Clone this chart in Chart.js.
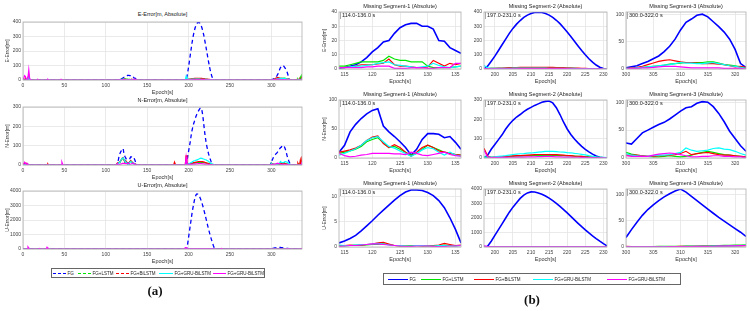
<!DOCTYPE html>
<html>
<head>
<meta charset="utf-8">
<script src="https://cdn.jsdelivr.net/npm/chart.js@4.4.1/dist/chart.umd.min.js"></script>
<style>
body{margin:0;background:#fff;width:750px;height:311px;position:relative;overflow:hidden;font-family:"Liberation Sans",Arial,sans-serif}
canvas{position:absolute}
.ttl{position:absolute;font-size:5.5px;color:#222;transform:translate(-50%,-50%);white-space:nowrap}
.note{position:absolute;font-size:5.5px;color:#222;white-space:nowrap;border-left:1.5px solid #aaa;padding-left:1px;line-height:7px}
.leg{position:absolute;border:1px solid #666;background:#fff}
.leg .ln{position:absolute;top:50%;height:0}
.leg .tx{position:absolute;top:50%;transform:translateY(-50%);font-size:4.5px;color:#222;white-space:nowrap}
.pl{position:absolute;font-family:"Liberation Serif",serif;font-weight:bold;font-size:13px;color:#111;transform:translate(-50%,-50%)}
</style>
</head>
<body>
<script>
const names = ['FG', 'FG+LSTM', 'FG+BiLSTM', 'FG+GRU-BiLSTM', 'FG+GRU-BiLSTM'];
const colors = ['#0000ff', '#00e600', '#ff0000', '#00ffff', '#ff00ff'];

// epochs of the three missing segments
const seg1X = [114,115,116,117,118,119,120,121,122,123,124,125,126,127,128,129,130,131,132,133,134,135,136];
const seg2X = [197,198,199,200,201,202,203,204,205,206,207,208,209,210,211,212,213,214,215,216,217,218,219,220,221,222,223,224,225,226,227,228,229,230,231];
const seg3X = [300,301,302,303,304,305,306,307,308,309,310,311,312,313,314,315,316,317,318,319,320,321,322];

// order in each: FG, FG+LSTM, FG+BiLSTM, FG+GRU-BiLSTM, FG+GRU-BiLSTM (magenta)
const e1 = [
  [0.5,1,2,3,5,8,12,15,19,20,25,29,31,32,32,30,30,28,20,19.5,15,13,11],
  [2,2,3,4,5,5,5,5,6,9,7,6,6,5,5,5,2,1,1,1,1,1.5,2],
  [1,1,1.5,2,3,3,3,3.5,4,7,3,2,2,1.5,1,1,1.5,6,4,2,4,3,4],
  [1,1,1.5,2,2,2.5,3,4,4.5,5,3,2.5,2,1.5,1,1.5,2,4,2.5,1.5,1,1.5,2],
  [1,1,1,1,1,1.5,1.5,2,2,2,0.5,0.5,0.5,0.8,1,0.8,0.5,0.5,1,1,1,4,4]
];
const n1 = [
  [10,22,45,58,68,76,82,85,55,45,37,28,18,5,15,32,42,42,41,35,37,27,15],
  [8,10,12,15,20,28,32,35,26,18,20,15,10,5,8,15,22,18,14,10,8,6,5],
  [10,12,14,17,22,30,36,38,25,18,23,18,10,3,10,18,22,18,12,10,8,6,5],
  [5,8,12,16,22,30,35,37,28,20,17,12,8,3,8,14,18,16,10,5,10,5,3],
  [8,4,2,3,5,6,8,8,8,8,7,7,6,10,8,5,4,6,8,10,6,4,3]
];
const u1 = [
  [0.8,1.2,1.7,2.3,3.2,4.2,5.2,6.3,7.3,8.3,9.3,10.2,10.9,11.3,11.3,11.2,10.8,10.2,9.2,7.8,5.8,3.5,0.8],
  [0.3,0.2,0.3,0.4,0.3,0.4,0.5,0.5,0.6,0.5,0.3,0.2,0.2,0.3,0.3,0.2,0.2,0.3,0.3,0.4,0.3,0.2,0.3],
  [0.2,0.3,0.4,0.3,0.4,0.5,0.6,0.8,0.9,0.6,0.3,0.2,0.2,0.2,0.3,0.2,0.2,0.3,0.4,0.7,0.5,0.3,0.4],
  [0.4,0.3,0.3,0.4,0.5,0.5,0.6,0.7,0.6,0.4,0.3,0.3,0.2,0.2,0.3,0.3,0.2,0.2,0.3,0.3,0.2,0.2,0.3],
  [0.1,0.2,0.3,0.3,0.4,0.5,0.6,0.6,0.5,0.4,0.3,0.2,0.1,0.1,0.2,0.2,0.2,0.1,0.1,0.1,0.2,0.2,0.3]
];
const e2 = [
  [0,20,55,90,130,170,210,250,285,315,340,362,378,390,396,398,396,390,378,362,342,318,290,260,228,195,162,130,100,72,48,28,12,3,0],
  [3,3,4,4,5,5,5,6,6,6,7,7,7,7,7,7,7,6,6,6,6,5,5,5,4,4,3,3,3,2,2,2,1,1,1],
  [2,3,4,5,6,7,8,9,10,10,11,11,12,12,12,12,12,11,11,11,10,10,9,8,8,7,6,5,4,3,3,2,2,1,1],
  [25,8,4,4,4,5,5,5,6,6,6,6,6,6,6,6,6,6,5,5,5,5,5,4,4,4,3,3,3,2,2,2,1,1,1],
  [2,1,1,1,1,1,1,1,1,1,2,2,2,2,2,2,2,2,2,2,2,2,2,2,1,1,1,1,1,1,1,1,1,0,0]
];
const n2 = [
  [0,15,45,70,95,120,150,175,195,212,225,240,252,262,272,280,288,293,295,285,260,225,185,150,122,98,78,60,45,32,20,10,4,1,0],
  [3,3,3,5,6,6,7,7,8,9,10,11,12,12,13,13,14,14,14,13,13,12,12,11,11,10,9,8,7,6,5,4,3,2,1],
  [50,10,3,4,5,7,8,10,11,12,13,14,15,16,17,18,18,18,18,17,17,16,15,13,12,10,9,8,6,5,4,3,2,2,1],
  [5,5,5,6,8,10,12,15,18,20,22,23,25,26,28,30,32,34,35,34,33,31,30,28,27,24,22,19,16,12,9,6,4,3,2],
  [40,5,2,3,3,3,3,4,4,5,5,5,6,6,6,7,7,8,8,7,6,6,5,5,5,4,4,3,3,2,2,1,1,1,0]
];
const u2 = [
  [0,50,400,800,1200,1600,2000,2400,2750,3050,3350,3580,3730,3800,3790,3730,3640,3520,3370,3200,3010,2800,2580,2350,2110,1870,1630,1400,1180,970,770,580,400,230,80],
  [5,5,6,6,7,7,8,8,8,9,9,9,10,10,10,10,10,10,9,9,9,8,8,8,7,7,6,6,5,5,4,4,3,3,3],
  [20,8,6,6,7,8,8,9,10,10,11,11,12,12,12,12,12,11,11,11,10,10,9,9,8,8,7,6,6,5,5,4,4,3,3],
  [10,6,5,5,6,6,7,7,8,8,8,9,9,9,9,9,9,9,8,8,8,8,7,7,7,6,6,5,5,4,4,4,3,3,3],
  [100,20,8,6,6,6,6,7,7,7,7,8,8,8,8,8,8,8,8,7,7,7,7,6,6,6,5,5,5,4,4,4,3,3,3]
];
const e3 = [
  [2,4,6,10,14,19,24,32,42,55,72,86,92,99,101,96,87,78,68,55,36,10,3],
  [0,1,2,3,4,5,6,7,9,10,11,12,12,12,12,13,13,11,8,7,6,4,2],
  [1,2,3,5,8,11,14,16,17,15,13,12,12,11,10,10,10,9,8,6,4,5,3],
  [1,1,2,3,4,5,6,7,8,10,12,11,11,10,10,11,12,10,8,6,5,3,1],
  [0,1,1,2,2,3,4,5,5,5,4,3,2,2,2,2,2,2,1,1,1,1,0]
];
const n3 = [
  [27,25,35,45,50,55,60,64,70,77,84,90,92,98,101,100,92,80,65,48,35,22,12],
  [10,7,5,4,3,2,2,3,4,3,2,3,5,8,10,12,10,8,6,5,4,3,2],
  [5,5,5,4,3,3,4,4,5,6,8,12,6,8,9,10,8,6,5,5,4,3,2],
  [8,5,4,3,3,4,5,5,6,8,10,18,14,12,13,14,17,18,16,15,12,8,5],
  [4,3,3,3,3,5,7,8,9,8,6,4,2,2,3,3,4,4,3,3,2,2,1]
];
const u3 = [
  [18,33,47,60,71,80,88,95,101,106,110,104,96,88,80,72,64,56,49,42,35,28,20],
  [0.5,0.5,0.5,0.5,0.8,0.8,1,1,1,1.2,1.2,1.5,1.5,1.8,2,2.2,2.5,2.8,3,3.2,3.5,3.8,4],
  [1,0.8,0.6,0.5,0.5,0.5,0.6,0.6,0.7,0.8,1,1,1,1.2,1.2,1.3,1.4,1.5,1.6,1.8,2,2.2,2.5],
  [0.5,0.5,0.4,0.4,0.5,0.5,0.5,0.6,0.6,0.8,0.8,1,1,1,1.2,1.3,1.5,1.6,1.8,2,2.2,2.5,3],
  [0.3,0.3,0.3,0.4,0.4,0.5,0.5,0.5,0.6,0.6,0.7,0.8,0.9,1,1.1,1.2,1.4,1.6,1.8,2,2.2,2.5,2.8]
];

// spikes outside the outages in the full-run plots, [epoch, value]
const extraE = [
  [],
  [[323,2],[328,3],[332,8],[335,20],[337,40]],
  [[3,15],[7,35],[323,3],[330,4],[334,10],[337,22]],
  [[5,8],[7,25],[334,5],[337,10]],
  [[2,30],[3,22],[4,6],[6,15],[7,70],[8,12],[9,3],[18,4],[30,5],[46,5],[337,6]]
];
const extraN = [
  [],
  [[5,6],[333,6],[337,15]],
  [[2,12],[4,8],[30,6],[183,15],[184,4],[332,10],[335,25],[337,45]],
  [[3,6],[337,10]],
  [[2,14],[3,10],[5,8],[47,15],[48,3],[337,16]]
];
const extraU = [
  [],
  [[337,30]],
  [[7,50],[337,40]],
  [[7,60],[337,20]],
  [[6,140],[7,60],[20,40],[29,120],[30,30],[196,100],[240,40],[337,60]]
];
const runEnd = 337;

const GRID = '#e4e4e4';
const frame = {
  id: 'frame',
  afterDraw(c) {
    const a = c.chartArea, x = c.ctx;
    x.save();
    x.strokeStyle = '#b0b0b0';
    x.lineWidth = 0.8;
    x.strokeRect(a.left, a.top, a.right - a.left, a.bottom - a.top);
    x.restore();
  }
};

function pts(xs, ys) {
  return xs.map((x, i) => ({x: x, y: ys[i]}));
}

function fullRun(k, segs, extra) {
  const ys = new Array(runEnd + 1).fill(0);
  extra[k].forEach(p => { ys[p[0]] = p[1]; });
  segs.forEach(s => s[0].forEach((t, i) => { ys[t] = s[1][k][i]; }));
  return ys.map((v, t) => ({x: t, y: v}));
}

function sets(seriesPts, dashedFG) {
  return seriesPts.map((d, k) => ({
    label: names[k],
    data: d,
    borderColor: colors[k],
    borderWidth: k === 0 ? (dashedFG ? 1.3 : 1.6) : 1.2,
    borderDash: (k === 0 && dashedFG) ? [4, 3] : [],
    order: 4 - k,
    fill: false
  }));
}

const plain = v => String(v);

function plot(p) {
  const PT = 4, PR = 5, XH = 16;
  const cv = document.createElement('canvas');
  cv.width = p.r - p.l + p.yw + PR;
  cv.height = p.b - p.t + PT + XH;
  cv.style.left = (p.l - p.yw) + 'px';
  cv.style.top = (p.t - PT) + 'px';
  document.body.appendChild(cv);
  new Chart(cv, {
    type: 'line',
    data: {datasets: p.datasets},
    options: {
      responsive: false, animation: false, devicePixelRatio: 1,
      layout: {padding: {top: PT, right: PR, left: 0, bottom: 0}},
      plugins: {legend: {display: false}, tooltip: {enabled: false}},
      elements: {point: {radius: 0}, line: {tension: 0}},
      scales: {
        x: {
          type: 'linear', min: p.xMin, max: p.xMax,
          grid: {color: GRID, drawTicks: false, lineWidth: 0.8},
          border: {display: false},
          ticks: {stepSize: p.xStep, padding: 3, includeBounds: false, maxRotation: 0, autoSkip: false,
                  font: {size: 5}, color: '#444', callback: plain},
          title: {display: true, text: 'Epoch[s]', font: {size: 5.5}, color: '#333', padding: 0},
          afterFit: s => { s.height = XH; }
        },
        y: {
          min: 0, max: p.yMax,
          grid: {color: GRID, drawTicks: false, lineWidth: 0.8},
          border: {display: false},
          ticks: {stepSize: p.yStep, padding: 2, includeBounds: false, autoSkip: false,
                  font: {size: 5}, color: '#444', callback: plain},
          title: {display: !!p.yTitle, text: p.yTitle || '', font: {size: 5}, color: '#333',
                  padding: {top: p.titlePad, bottom: 0}},
          afterFit: s => { s.width = p.yw; }
        }
      }
    },
    plugins: [frame]
  });
}

function text(cls, x, y, str) {
  const d = document.createElement('div');
  d.className = cls;
  d.style.left = x + 'px';
  d.style.top = y + 'px';
  d.textContent = str;
  document.body.appendChild(d);
  return d;
}

// ---- panel (a): whole run ----
const segsE = [[seg1X, e1], [seg2X, e2], [seg3X, e3]];
const segsN = [[seg1X, n1], [seg2X, n2], [seg3X, n3]];
const segsU = [[seg1X, u1], [seg2X, u2], [seg3X, u3]];
const aRows = [
  {t: 21, b: 80, yMax: 400, yStep: 100, yTitle: 'E-Error[m]', title: 'E-Error[m, Absolute]', ty: 14, segs: segsE, extra: extraE},
  {t: 106, b: 165, yMax: 300, yStep: 100, yTitle: 'N-Error[m]', title: 'N-Error[m, Absolute]', ty: 100, segs: segsN, extra: extraN},
  {t: 190, b: 249, yMax: 4000, yStep: 1000, yTitle: 'U-Error[m]', title: 'U-Error[m, Absolute]', ty: 185, segs: segsU, extra: extraU}
];
aRows.forEach(r => {
  const series = [0, 1, 2, 3, 4].map(k => fullRun(k, r.segs, r.extra));
  plot({l: 23, r: 302, t: r.t, b: r.b, yw: 23, titlePad: 5, xMin: 0, xMax: runEnd, xStep: 50,
        yMax: r.yMax, yStep: r.yStep, yTitle: r.yTitle, datasets: sets(series, true)});
  text('ttl', 162.5, r.ty, r.title);
});

// ---- panel (b): the three outages ----
const bCols = [
  {l: 339, r: 461, xs: seg1X, xMin: 114, xMax: 136, span: '114.0-136.0 s', title: 'Missing Segment-1 (Absolute)'},
  {l: 484, r: 607, xs: seg2X, xMin: 197, xMax: 231, span: '197.0-231.0 s', title: 'Missing Segment-2 (Absolute)'},
  {l: 626, r: 746, xs: seg3X, xMin: 300, xMax: 322, span: '300.0-322.0 s', title: 'Missing Segment-3 (Absolute)'}
];
const bRows = [
  {t: 11, b: 69, ty: 6, yTitle: 'E-Error[m]', data: [e1, e2, e3], yMax: [40, 400, 105], yStep: [10, 100, 50]},
  {t: 99, b: 158, ty: 94, yTitle: 'N-Error[m]', data: [n1, n2, n3], yMax: [100, 300, 104], yStep: [50, 100, 50]},
  {t: 188, b: 247, ty: 183, yTitle: 'U-Error[m]', data: [u1, u2, u3], yMax: [11.5, 4000, 110], yStep: [5, 1000, 50]}
];
bRows.forEach(r => {
  bCols.forEach((c, j) => {
    const series = r.data[j].map(ys => pts(c.xs, ys));
    plot({l: c.l, r: c.r, t: r.t, b: r.b, yw: 18, titlePad: 1, xMin: c.xMin, xMax: c.xMax, xStep: 5,
          yMax: r.yMax[j], yStep: r.yStep[j], yTitle: j === 0 ? r.yTitle : null, datasets: sets(series, false)});
    text('ttl', (c.l + c.r) / 2, r.ty, c.title);
    text('note', c.l + 1, r.t + 1, c.span);
  });
});

// ---- legends ----
function legend(box, items, solidOnly) {
  const lg = document.createElement('div');
  lg.className = 'leg';
  lg.style.left = box.l + 'px'; lg.style.top = box.t + 'px';
  lg.style.width = box.w + 'px'; lg.style.height = box.h + 'px';
  items.forEach((it, k) => {
    const ln = document.createElement('div');
    ln.className = 'ln';
    ln.style.left = it[0] + 'px';
    ln.style.width = it[1] + 'px';
    const style = solidOnly ? 'solid' : (k <= 2 ? 'dashed' : 'solid');
    ln.style.borderTop = (k === 0 ? 1.5 : 1.2) + 'px ' + style + ' ' + colors[k];
    lg.appendChild(ln);
    const tx = document.createElement('div');
    tx.className = 'tx';
    tx.style.left = (it[0] + it[1] + 1.5) + 'px';
    tx.textContent = names[k];
    lg.appendChild(tx);
  });
  document.body.appendChild(lg);
}
legend({l: 51, t: 268, w: 212, h: 8}, [[1, 13], [26, 13], [64, 13], [107, 14], [161, 13]], false);
legend({l: 383, t: 273, w: 296, h: 10}, [[4, 20], [37, 20], [90, 20], [149, 20], [223, 20]], true);

text('pl', 155, 291, '(a)');
text('pl', 532, 300, '(b)');
</script>
</body>
</html>
